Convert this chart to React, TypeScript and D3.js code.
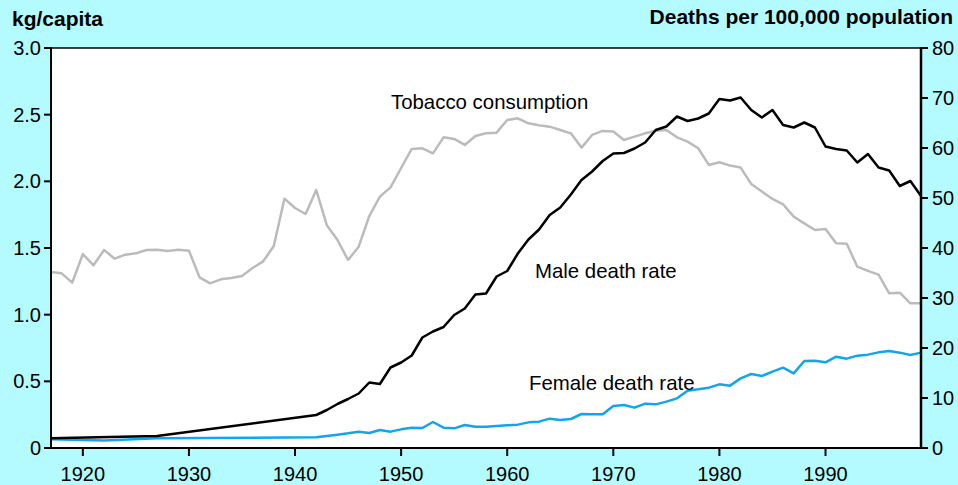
import React from 'react';
import * as d3 from 'd3';

// tobacco consumption, kg per capita, one value per year from 1917
const tobaccoStart = 1917;
const tobacco = [
  1.32, 1.31, 1.24, 1.455, 1.37, 1.485, 1.42, 1.45, 1.46, 1.485,
  1.487, 1.478, 1.487, 1.48, 1.28, 1.235, 1.265, 1.275, 1.29, 1.35,
  1.4, 1.515, 1.87, 1.8, 1.755, 1.935, 1.67, 1.56, 1.41, 1.51,
  1.74, 1.885, 1.955, 2.1, 2.243, 2.248, 2.21, 2.33, 2.318, 2.273,
  2.34, 2.36, 2.365, 2.46, 2.473, 2.435, 2.42, 2.41, 2.385, 2.36,
  2.253, 2.348, 2.378, 2.373, 2.31, 2.335, 2.36, 2.38, 2.385, 2.33,
  2.298, 2.248, 2.123, 2.143, 2.118, 2.103, 1.98, 1.923, 1.868, 1.828,
  1.735, 1.685, 1.635, 1.643, 1.535, 1.532, 1.36, 1.328, 1.3, 1.16,
  1.165, 1.085, 1.085,
];

// death rates per 100,000 (sparse before 1943)
const maleYears = [1917, 1927, 1942, ...d3.range(1943, 2000)];
const maleRates = [
  1.93, 2.4, 6.6,
  7.6, 8.8, 9.8, 10.9, 13.1, 12.8, 16.1, 17.1, 18.5, 22.1,
  23.3, 24.2, 26.6, 27.9, 30.7, 30.9, 34.3, 35.4, 38.9, 41.7,
  43.7, 46.6, 48.1, 50.7, 53.6, 55.3, 57.4, 58.9, 59.0, 59.9,
  61.1, 63.6, 64.3, 66.3, 65.4, 65.9, 66.9, 69.8, 69.5, 70.1,
  67.6, 66.1, 67.6, 64.6, 64.1, 65.1, 64.1, 60.3, 59.8, 59.5,
  57.1, 58.8, 56.1, 55.5, 52.4, 53.4, 50.4,
];

const femaleYears = [1917, 1922, 1927, 1942, ...d3.range(1943, 2000)];
const femaleRates = [
  1.75, 1.5, 1.95, 2.15,
  2.4, 2.67, 2.93, 3.27, 3.0, 3.6, 3.27, 3.73, 4.07, 4.0,
  5.2, 4.07, 3.93, 4.6, 4.27, 4.27, 4.4, 4.53, 4.67, 5.13,
  5.27, 5.87, 5.6, 5.8, 6.8, 6.73, 6.73, 8.4, 8.6, 8.07,
  8.87, 8.73, 9.27, 9.93, 11.47, 11.73, 12.07, 12.73, 12.47, 13.93,
  14.8, 14.4, 15.27, 16.07, 14.93, 17.4, 17.47, 17.13, 18.27, 17.87,
  18.47, 18.67, 19.13, 19.4, 19.07, 18.6, 19.07,
];

const yearTicks = [1920, 1930, 1940, 1950, 1960, 1970, 1980, 1990];
const leftTicks = [0, 0.5, 1, 1.5, 2, 2.5, 3];
const leftTickLabels = ['0', '0.5', '1.0', '1.5', '2.0', '2.5', '3.0'];
const rightTicks = [0, 10, 20, 30, 40, 50, 60, 70, 80];

const W = 958;
const H = 485;
const m = { left: 51, right: 921, top: 48, bottom: 448 };
const font = 'Liberation Sans, Arial, sans-serif';

const App = () => {
  const x = d3.scaleLinear().domain([1917, 1999]).range([m.left, m.right]);
  const yL = d3.scaleLinear().domain([0, 3]).range([m.bottom, m.top]);
  const yR = d3.scaleLinear().domain([0, 80]).range([m.bottom, m.top]);

  const tobaccoLine = d3.line<number>()
    .x((d, i) => x(tobaccoStart + i))
    .y(d => yL(d));
  const rateLine = d3.line<[number, number]>()
    .x(d => x(d[0]))
    .y(d => yR(d[1]));

  const male = maleYears.map((yr, i) => [yr, maleRates[i]] as [number, number]);
  const female = femaleYears.map((yr, i) => [yr, femaleRates[i]] as [number, number]);

  return (
    <svg width={W} height={H} style={{ position: 'absolute', left: 0, top: 0, display: 'block' }}
      fontFamily={font}>
      <rect x={0} y={0} width={W} height={H} fill="#b3fbff" />
      <rect x={m.left} y={m.top} width={m.right - m.left} height={m.bottom - m.top} fill="#fff" />

      <text x={12} y={26} fontSize={21} fontWeight="bold">kg/capita</text>
      <text x={953} y={24} fontSize={21} fontWeight="bold" textAnchor="end">Deaths per 100,000 population</text>

      <path d={tobaccoLine(tobacco) || ''} fill="none" stroke="#bbbbbb" strokeWidth={2.5} strokeLinejoin="round" />
      <path d={rateLine(female) || ''} fill="none" stroke="#12a6e8" strokeWidth={2.5} strokeLinejoin="round" />
      <path d={rateLine(male) || ''} fill="none" stroke="#000" strokeWidth={2.5} strokeLinejoin="round" />

      <text x={391} y={109} fontSize={20.4}>Tobacco consumption</text>
      <text x={535} y={278} fontSize={20.4}>Male death rate</text>
      <text x={529} y={390} fontSize={20.4}>Female death rate</text>

      {/* frame */}
      <line x1={m.left} x2={m.right} y1={m.top} y2={m.top} stroke="#000" strokeWidth={1.5} />
      <line x1={m.left} x2={m.left} y1={m.top - 1} y2={m.bottom + 1} stroke="#000" strokeWidth={2} />
      <line x1={m.right} x2={m.right} y1={m.top - 1} y2={m.bottom + 1} stroke="#000" strokeWidth={2.5} />
      <line x1={m.left} x2={m.right} y1={m.bottom} y2={m.bottom} stroke="#000" strokeWidth={2} />

      {leftTicks.map((t, i) => (
        <g key={'l' + t}>
          <line x1={m.left - 7} x2={m.left} y1={yL(t)} y2={yL(t)} stroke="#000" strokeWidth={2} />
          <text x={41} y={yL(t) + 7} fontSize={20} textAnchor="end">{leftTickLabels[i]}</text>
        </g>
      ))}
      {rightTicks.map(t => (
        <g key={'r' + t}>
          <line x1={m.right} x2={m.right + 7} y1={yR(t)} y2={yR(t)} stroke="#000" strokeWidth={2} />
          <text x={932} y={yR(t) + 7} fontSize={20}>{t}</text>
        </g>
      ))}
      {yearTicks.map(t => (
        <g key={'x' + t}>
          <line x1={x(t)} x2={x(t)} y1={m.bottom} y2={m.bottom + 8} stroke="#000" strokeWidth={2} />
          <text x={x(t)} y={481} fontSize={20} textAnchor="middle">{t}</text>
        </g>
      ))}
    </svg>
  );
};

export default App;
